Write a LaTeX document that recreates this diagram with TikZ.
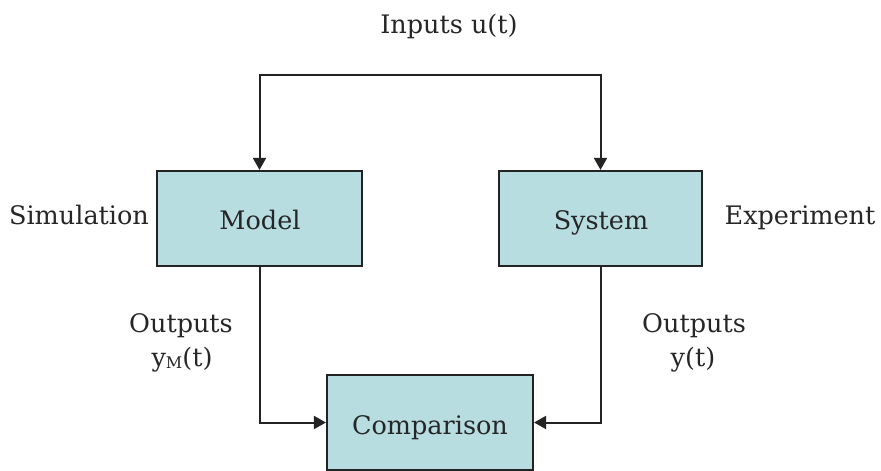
\documentclass[tikz,border=0pt]{standalone}
\usepackage{fontspec}
\setmainfont{DejaVu Serif}
\usetikzlibrary{arrows.meta}
\definecolor{boxfill}{RGB}{183,221,225}
\definecolor{edge}{RGB}{35,35,35}
\tikzset{
  block/.style={draw=edge, line width=2.2pt, fill=boxfill, inner sep=0pt},
  lbl/.style={inner sep=0pt, anchor=base, font=\fontsize{25.5}{30}\selectfont, text=black!85},
  flow/.style={draw=edge, line width=2pt, -{Triangle[length=12pt,width=13pt]}}
}
\begin{document}
\begin{tikzpicture}[x=1pt,y=-1pt]
  \useasboundingbox (0,0) rectangle (881,471);
  % blocks
  \node[block, minimum width=205pt, minimum height=95pt] (model) at (259.5,218.5) {};
  \node[block, minimum width=203pt, minimum height=95pt] (system) at (600.5,218.5) {};
  \node[block, minimum width=206pt, minimum height=95pt] (comp) at (430,422.5) {};
  \node[lbl] (modeltxt) at (260,229) {Model};
  \node[lbl] (systxt) at (601,229) {System};
  \node[lbl] (comptxt) at (430,434) {Comparison};
  % side labels
  \node[lbl] (inputs) at (449,33) {Inputs u(t)};
  \node[lbl] (sim) at (79,224) {Simulation};
  \node[lbl] (exp) at (800,224) {Experiment};
  \node[lbl] (outl) at (181,332) {Outputs};
  \node[lbl] (yml) at (182,366) {y\raisebox{-2pt}{\fontsize{16}{16}\selectfont M}(t)};
  \node[lbl] (outr) at (694,332) {Outputs};
  \node[lbl] (yr) at (693,366) {y(t)};
  % connectors
  \coordinate (tl) at (model.north |- 0,75);
  \coordinate (tr) at (system.north |- 0,75);
  \draw[flow] (tl) -- (model.north);
  \draw[flow] (tr) -- (system.north);
  \draw[draw=edge, line width=2pt, line cap=rect] (tl) -- (tr);
  \draw[flow] (model.south) |- (comp.west);
  \draw[flow] (system.south) |- (comp.east);
\end{tikzpicture}
\end{document}
